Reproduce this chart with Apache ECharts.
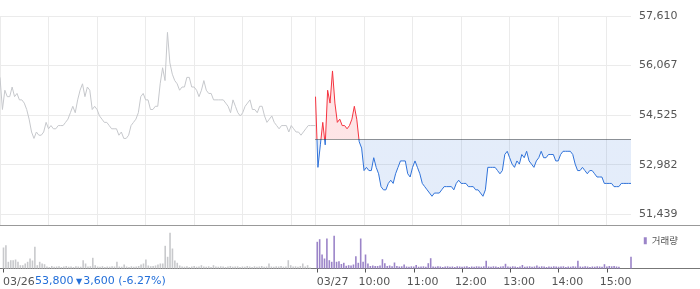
<!DOCTYPE html>
<html><head><meta charset="utf-8">
<script src="https://cdn.jsdelivr.net/npm/echarts@6/dist/echarts.min.js"></script>
<style>html,body{margin:0;padding:0;background:#fff}#c{width:700px;height:289px}</style>
</head><body><div id="c"></div>
<script>
// ---- data ----
const days = ['03/26', '03/27'];
const timeTickLabels = ['10:00', '11:00', '12:00', '13:00', '14:00', '15:00'];
const priceTicks = [51439, 52982, 54525, 56067, 57610];
const baseLine = 53780;
const lastPrice = 53800;
const priceChange = -3600;
const changePct = -6.27;

// 3-minute samples, 09:00 .. 15:30
const prices26 = [
55700,54700,55300,55100,55100,55400,55100,55200,55000,55000,
54900,54700,54400,54000,53800,54000,53900,53900,54000,54300,
54100,54200,54100,54100,54200,54200,54200,54300,54400,54600,
54800,54600,55000,55300,55500,55100,55400,55300,54700,54800,
54700,54500,54400,54300,54300,54200,54100,54100,54100,53900,
54000,53800,53800,53900,54200,54300,54400,54600,55100,55200,
55000,55000,54700,54700,54800,54800,55500,56000,55600,57100,
56150,55800,55600,55500,55300,55400,55400,55700,55700,55400,
55400,55300,55100,55300,55600,55300,55200,55200,55000,55000,
55000,55000,55000,54900,54800,54600,55000,54800,54600,54500,
54600,54800,54900,55000,54700,54700,54600,54800,54800,54500,
54300,54400,54500,54300,54200,54100,54200,54200,54200,54000,
54200,54100,54000,54000,53900,54000,54100,54200,54200,54200,
54200
];
const prices27 = [
55100,52900,53600,54300,53600,55300,54900,55900,54900,54300,
54400,54200,54200,54100,54200,54400,54800,54400,53700,53500,
52800,52900,52800,52800,53200,52900,52700,52300,52200,52200,
52400,52500,52400,52700,52900,53100,53100,53100,52700,52600,
52900,53100,52900,52700,52400,52300,52200,52100,52000,52100,
52100,52100,52200,52300,52300,52300,52300,52200,52400,52500,
52400,52400,52400,52300,52300,52300,52200,52200,52100,52000,
52200,52900,52900,52900,52900,52800,52700,52800,53300,53400,
53200,53000,52900,53100,53000,53300,53200,53400,53100,53000,
52900,53100,53200,53400,53200,53200,53300,53300,53300,53100,
53100,53300,53400,53400,53400,53400,53300,53000,52800,52800,
52900,52800,52700,52800,52800,52700,52600,52600,52600,52400,
52400,52400,52400,52300,52300,52300,52400,52400,52400,52400,
52400
];
const volume26 = [
210,233,67,83,83,90,67,33,33,50,
67,100,80,217,33,67,50,43,20,15,
25,18,20,22,15,20,25,18,20,15,
22,20,18,83,50,20,23,107,33,20,
18,23,15,20,18,22,20,67,20,18,
40,20,15,22,18,20,25,40,50,90,
30,23,25,30,40,50,50,227,117,357,
200,80,57,30,20,18,22,15,20,25,
18,20,33,20,18,22,15,33,20,18,
22,20,15,20,25,18,20,22,15,20,
18,25,20,15,22,18,20,25,18,20,
50,20,18,22,20,25,18,20,83,33,
20,22,18,25,50,20,33,10,0,0,
0
];
const volume27 = [
267,293,140,100,300,83,67,327,67,73,
45,57,27,33,30,40,123,57,300,67,
140,50,25,30,25,25,30,93,53,25,
30,22,60,25,20,22,40,20,18,22,
20,35,18,20,22,18,53,103,20,18,
22,20,15,20,22,18,20,15,22,20,
18,20,22,15,20,18,22,20,18,22,
77,20,18,22,20,15,20,22,47,20,
18,22,20,15,20,35,18,20,22,18,
20,30,18,22,20,15,20,18,22,20,
18,20,22,15,20,18,22,20,77,20,
18,22,20,15,20,18,22,20,18,43,
20,25,22,25,20,18,0,0,0,0,
117
];

// ---- categories (3-minute slots; day-2 09:00 shares the slot of day-1 15:30) ----
const STEP = 3, SLOTS = 130;
function hhmm(m) { const h = Math.floor(m / 60), mm = m % 60; return (h < 10 ? '0' : '') + h + ':' + (mm < 10 ? '0' : '') + mm; }
const categories = [];
for (let k = 0; k <= 2 * SLOTS; k++) {
  const d = k < SLOTS ? 0 : 1;
  categories.push(days[d] + ' ' + hhmm(540 + (k - d * SLOTS) * STEP));
}
const timeOf = v => v.split(' ')[1];
const dayOf = v => v.split(' ')[0];
const isHourLine = (i, v) => timeOf(v).slice(3) === '00';
const isLabelTick = (i, v) => (timeOf(v) === '09:00') || (dayOf(v) === days[1] && timeTickLabels.indexOf(timeOf(v)) >= 0);

const pad = n => new Array(n).fill(null);
const s26 = prices26.concat(pad(categories.length - prices26.length));
const s27 = pad(SLOTS).concat(prices27);
const v26 = volume26.concat(pad(categories.length - volume26.length));
const v27 = pad(SLOTS).concat(volume27);

const fmt = n => Math.round(n).toString().replace(/\B(?=(\d{3})+(?!\d))/g, ',');
const quoteText = '{v|' + fmt(lastPrice) + '}{a| ' + (priceChange < 0 ? '▼' : '▲') + '}{v|' + fmt(Math.abs(priceChange)) + ' (' + changePct.toFixed(2) + '%)}';

const FONT = 'DejaVu Sans';
const PMIN = 51106, PMAX = 57610;
const chart = echarts.init(document.getElementById('c'), null, { renderer: 'canvas' });
chart.setOption({
  animation: false,
  backgroundColor: '#fff',
  grid: [
    { left: 0, right: 69, top: 16, height: 209 },
    { left: 0, right: 69, top: 226, height: 42.5 }
  ],
  legend: {
    data: ['거래량'], right: 17, top: 231, icon: 'rect', itemWidth: 3, itemHeight: 7,
    textStyle: { fontSize: 9.5, color: '#555', fontFamily: 'Noto Sans CJK KR' }
  },
  xAxis: [
    {
      gridIndex: 0, type: 'category', data: categories, boundaryGap: false,
      axisLine: { show: false }, axisTick: { show: false }, axisLabel: { show: false },
      splitLine: { show: true, interval: isHourLine, lineStyle: { color: '#ebebeb', width: 1 } }
    },
    {
      gridIndex: 1, type: 'category', data: categories, boundaryGap: false,
      axisLine: { show: false },
      axisTick: { show: true, interval: isLabelTick, length: 4, lineStyle: { color: '#555' } },
      axisLabel: {
        show: true, interval: isLabelTick, margin: 8, align: 'center',
        color: '#555', fontSize: 11, fontFamily: FONT,
        formatter: v => timeOf(v) === '09:00' ? '{d|' + dayOf(v) + '}' : '{t|' + timeOf(v) + '}',
        rich: {
          d: { width: 1, align: 'left', color: '#555', fontSize: 11, fontFamily: FONT },
          t: { width: 14, align: 'left', color: '#555', fontSize: 11, fontFamily: FONT }
        }
      },
      splitLine: { show: false }
    }
  ],
  yAxis: [
    {
      gridIndex: 0, type: 'value', position: 'right', min: PMIN, max: PMAX,
      axisLine: { show: false },
      axisTick: { show: false, customValues: priceTicks },
      axisLabel: { customValues: priceTicks, margin: 8, color: '#555', fontSize: 11, fontFamily: FONT, formatter: v => fmt(v) },
      splitLine: { show: true, lineStyle: { color: '#ebebeb', width: 1 } }
    },
    { gridIndex: 1, type: 'value', min: 0, max: 425, show: false, splitLine: { show: false } }
  ],
  visualMap: {
    type: 'piecewise', show: false, seriesIndex: 1, dimension: 1,
    pieces: [{ gte: PMIN, lt: baseLine, color: '#2f72d9' }, { gte: baseLine, lte: PMAX, color: '#f5333f' }],
    outOfRange: { color: '#2f72d9' }
  },
  series: [
    {
      name: days[0], type: 'line', xAxisIndex: 0, yAxisIndex: 0, data: s26,
      showSymbol: false, silent: true, lineStyle: { color: '#c6c8cc', width: 1 }, itemStyle: { color: '#c6c8cc' }
    },
    {
      name: days[1], type: 'line', xAxisIndex: 0, yAxisIndex: 0, data: s27,
      showSymbol: false, silent: true, lineStyle: { width: 1 },
      areaStyle: { origin: baseLine, opacity: 0.13 },
      markLine: {
        silent: true, symbol: ['none', 'none'], label: { show: false },
        lineStyle: { type: 'dotted', color: '#333', width: 1 },
        data: [[{ coord: [categories[SLOTS], baseLine] }, { coord: [categories[2 * SLOTS], baseLine] }]]
      }
    },
    {
      name: days[0] + ' vol', type: 'bar', xAxisIndex: 1, yAxisIndex: 1, data: v26,
      barWidth: 1.6, barGap: '-100%', silent: true, itemStyle: { color: '#c8c9cc' }
    },
    {
      name: '거래량', type: 'bar', xAxisIndex: 1, yAxisIndex: 1, data: v27,
      barWidth: 1.6, barGap: '-100%', silent: true, itemStyle: { color: '#9b84c8' }
    }
  ],
  graphic: [
    { type: 'line', silent: true, shape: { x1: 0, y1: 225.5, x2: 700, y2: 225.5 }, style: { stroke: '#999', lineWidth: 1 } },
    { type: 'line', silent: true, shape: { x1: 0, y1: 268.5, x2: 700, y2: 268.5 }, style: { stroke: '#777', lineWidth: 1 } },
    {
      type: 'text', silent: true, left: 35, top: 276,
      style: {
        text: quoteText, fill: '#236fd9', font: '11px ' + FONT,
        rich: {
          v: { fill: '#236fd9', fontSize: 11, fontFamily: FONT },
          a: { fill: '#236fd9', fontSize: 8, fontFamily: FONT, padding: [0, 1, 0, 0] }
        }
      }
    }
  ]
});
</script>
</body></html>
